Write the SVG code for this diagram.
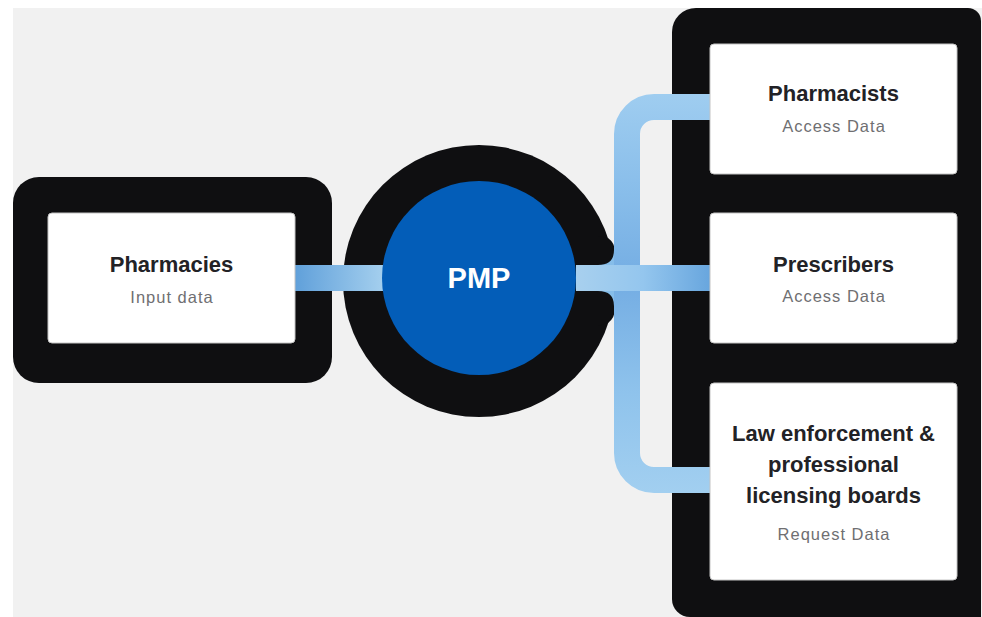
<svg xmlns="http://www.w3.org/2000/svg" width="982" height="617" viewBox="0 0 982 617">
  <defs>
    <style>
      .shadow { fill: #0f0f11; }
      .box { fill: #ffffff; stroke: #c4c4c4; stroke-width: 1; }
      .title { font-family: "Liberation Sans", Arial, sans-serif; font-weight: bold; font-size: 22px; fill: #222226; text-anchor: middle; }
      .sub { font-family: "Liberation Sans", Arial, sans-serif; font-size: 16.5px; letter-spacing: 1px; fill: #6f6f72; text-anchor: middle; }
      .pmp { font-family: "Liberation Sans", Arial, sans-serif; font-weight: bold; font-size: 29px; fill: #ffffff; text-anchor: middle; }
    </style>
    <linearGradient id="gLeft" gradientUnits="userSpaceOnUse" x1="295" y1="0" x2="383" y2="0">
      <stop offset="0" stop-color="#60a0da"/>
      <stop offset="1" stop-color="#a4cfee"/>
    </linearGradient>
    <linearGradient id="gMid" gradientUnits="userSpaceOnUse" x1="576" y1="0" x2="710" y2="0">
      <stop offset="0" stop-color="#a8d0ee"/>
      <stop offset="0.5" stop-color="#94c6ee"/>
      <stop offset="1" stop-color="#68a6de"/>
    </linearGradient>
    <linearGradient id="gVert" gradientUnits="userSpaceOnUse" x1="0" y1="94" x2="0" y2="493">
      <stop offset="0" stop-color="#9fcdf0"/>
      <stop offset="0.25" stop-color="#88bdea"/>
      <stop offset="0.47" stop-color="#74ade3"/>
      <stop offset="0.75" stop-color="#8fc3ec"/>
      <stop offset="1" stop-color="#a2cff0"/>
    </linearGradient>
  </defs>

  <!-- background -->
  <rect x="0" y="0" width="982" height="617" fill="#ffffff"/>
  <rect x="13" y="8" width="969" height="609" fill="#f1f1f1"/>

  <!-- shadows -->
  <g id="shadows">
    <rect class="shadow" x="13" y="177" width="319" height="206" rx="26" ry="26"/>
    <circle class="shadow" cx="479" cy="281" r="136"/>
    <path class="shadow" d="M598,236 L608,238 Q615,243 615,252 V308 Q615,318 608,323 L598,326 Z"/>
    <path class="shadow" d="M672,32 A24,24 0 0 1 696,8 H968 A13,13 0 0 1 981,21 V617 H690 A18,18 0 0 1 672,599 Z"/>
  </g>

  <!-- connectors -->
  <g id="connectors">
    <rect x="295" y="265" width="88" height="26" fill="url(#gLeft)"/>
    <path d="M710,107 H654 A27,27 0 0 0 627,134 V453 A27,27 0 0 0 654,480 H710" fill="none" stroke="url(#gVert)" stroke-width="26"/>
    <path d="M614,250 Q614,265 598,265 L598,291 Q614,291 614,306 Z" fill="#86bde9"/>
    <rect x="576" y="265" width="134" height="26" fill="url(#gMid)"/>
  </g>

  <!-- nodes -->
  <g id="node-pharmacies">
    <rect class="box" x="48" y="213" width="247" height="130" rx="4"/>
    <text class="title" x="171.5" y="272">Pharmacies</text>
    <text class="sub" x="172" y="303">Input data</text>
  </g>

  <g id="node-pmp">
    <circle cx="479" cy="278" r="97" fill="#035db8"/>
    <text class="pmp" x="479" y="288">PMP</text>
  </g>

  <g id="node-pharmacists">
    <rect class="box" x="710" y="44" width="247" height="130" rx="4"/>
    <text class="title" x="833.5" y="101">Pharmacists</text>
    <text class="sub" x="834" y="132">Access Data</text>
  </g>

  <g id="node-prescribers">
    <rect class="box" x="710" y="213" width="247" height="130" rx="4"/>
    <text class="title" x="833.5" y="272">Prescribers</text>
    <text class="sub" x="834" y="302">Access Data</text>
  </g>

  <g id="node-law">
    <rect class="box" x="710" y="383" width="247" height="197" rx="4"/>
    <text class="title" x="833.5" y="441">Law enforcement &amp;</text>
    <text class="title" x="833.5" y="472">professional</text>
    <text class="title" x="833.5" y="503">licensing boards</text>
    <text class="sub" x="834" y="540">Request Data</text>
  </g>
</svg>
